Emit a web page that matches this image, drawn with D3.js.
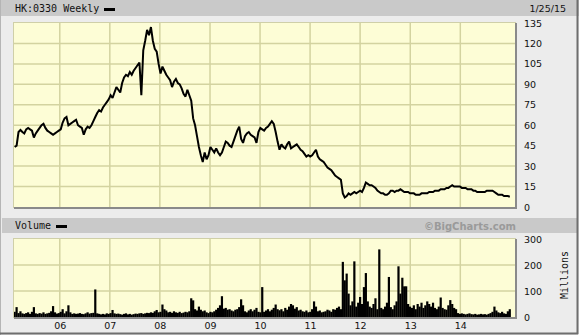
<!DOCTYPE html>
<html><head><meta charset="utf-8">
<script src="https://cdn.jsdelivr.net/npm/d3@7"></script>
<style>
html,body{margin:0;padding:0;background:#ececec;}
svg{display:block;}
</style></head>
<body>
<svg id="c" width="579" height="335"></svg>
<script>
// ---- data (bi-weekly samples) ----
const startDate = "2005-02-06";
const stepDays = 14;
const prices = [44,45,55,56.5,55,54,57,58,57,56,51,54,56,58,60,61,58,56,55,54,53,54,55,56,57,
62,65,66,60,61,62,63,64,60,59,58,53,57,59,58,60,63,66,69,71,
70,73,75,77,79,82,80,84,88,86,84,91,95,97,96,99,97,100,102,104,106,82,115,122,130,126,132,122,116,114,105,98,103,100,97,95,93,88,92,94,91,90,87,83,81,86,82,78,65,60,52,44,38,33,40,35,38,44,42,40,43,40,38,40,44,48,47,45,44,48,52,56,59,50,47,52,54,55,53,52,51,47,55,58,57,56,58,59,61,63,61,55,48,42,46,44,43,46,48,43,44,45,46,44,42,41,39,37,38,37,38,40,42,37,35,34,33,31,29,28,27,25,23,22,21,20,10,7,8,10,9,10,11,10,11,12,11,14,18,17,16,16,15,14,12,11,10,10,9,9,10,12,12,11,12,12,13,12,11,11,11,10,10,10,9,9,9,10,10,10,10,11,11,11,12,12,12,13,13,13,14,14,15,16,15,15,15,15,14,14,14,13,13,13,12,12,11,11,11,11,11,12,12,12,12,11,10,9,9,9,8,8,8,7.5];
const volumes = [20,38,15,22,14,12,15,18,12,20,38,14,12,15,13,18,12,14,16,22,42,18,13,15,20,
30,14,22,45,18,12,14,12,13,15,12,11,14,18,13,15,16,106,14,12,
10,12,10,14,12,15,27,14,12,13,11,9,12,14,10,12,9,11,13,12,14,15,12,14,16,15,18,16,22,27,18,20,48,30,25,18,20,16,22,18,16,20,15,17,20,18,22,72,64,30,25,40,28,22,25,18,15,20,18,22,28,35,45,80,32,35,28,30,25,22,28,30,38,68,45,22,18,25,30,22,28,35,20,18,115,20,25,30,22,28,35,48,30,26,30,22,35,28,40,50,45,32,38,25,28,22,20,25,18,20,30,60,40,22,25,18,20,22,28,25,20,30,28,35,40,30,212,141,167,90,45,60,214,40,55,77,50,115,169,60,40,35,50,72,30,260,35,30,40,55,154,38,30,45,60,195,90,151,118,118,50,40,35,45,30,50,40,55,35,45,60,50,40,55,35,30,40,75,35,30,28,45,65,50,35,30,15,12,14,12,10,12,14,11,10,12,9,10,12,10,11,9,12,15,20,40,25,18,15,20,14,12,22,30];
const priceTicks = [0,15,30,45,60,75,90,105,120,135];
const volumeTicks = [0,100,200,300];
const yearTicks = ["2006","2007","2008","2009","2010","2011","2012","2013","2014"];
const title = "HK:0330 Weekly";
const dateLabel = "1/25/15";
const volumeTitle = "Volume";
const brand = "©BigCharts.com";
const volUnit = "Millions";

// ---- build ----
const parse = d3.timeParse("%Y-%m-%d");
const t0 = parse(startDate);
const dates = prices.map((_, i) => d3.timeDay.offset(t0, i * stepDays));
const data = prices.map((p, i) => ({date: dates[i], price: p, vol: volumes[i]}));

const svg = d3.select("#c");
const W = 579, H = 335;
const L = 14, R = 515;
const pT = 23, pB = 207, vT = 239, vB = 317;
const mono = "'DejaVu Sans Mono', monospace";
const sans = "'DejaVu Sans', Verdana, sans-serif";
const plotBg = "#fdfdd6", gridC = "#d3d3a0";

const x = d3.scaleTime().domain([new Date(2005,1,1), new Date(2015,1,4)]).range([L, R]);
const yP = d3.scaleLinear().domain([0,135]).range([pB, pT]);
const yV = d3.scaleLinear().domain([0,300]).range([vB, vT]);

// outer
svg.append("rect").attr("x",0).attr("y",0).attr("width",W).attr("height",H).attr("fill","#ececec");
svg.append("rect").attr("x",0).attr("y",0).attr("width",W).attr("height",16).attr("fill","#c9c9c9");
svg.append("rect").attr("x",2).attr("y",218).attr("width",W-4).attr("height",15).attr("fill","#c9c9c9");
svg.append("line").attr("x1",0.5).attr("x2",0.5).attr("y1",0).attr("y2",H).attr("stroke","#b5b5b5").attr("stroke-width",1);
svg.append("line").attr("x1",577.5).attr("x2",577.5).attr("y1",0).attr("y2",334).attr("stroke","#6e6e6e").attr("stroke-width",2);
svg.append("line").attr("x1",0).attr("x2",578).attr("y1",333.5).attr("y2",333.5).attr("stroke","#6e6e6e").attr("stroke-width",2);

// header texts
svg.append("text").attr("x",15).attr("y",12).attr("font-family",mono).attr("font-size",10).attr("fill","#111").text(title);
svg.append("rect").attr("x",104).attr("y",8).attr("width",11).attr("height",3).attr("fill","#000");
svg.append("text").attr("x",566).attr("y",12).attr("text-anchor","end").attr("font-family",sans).attr("font-size",9.5).attr("fill","#111").text(dateLabel);
svg.append("text").attr("x",15).attr("y",229).attr("font-family",mono).attr("font-size",10).attr("fill","#111").text(volumeTitle);
svg.append("rect").attr("x",56).attr("y",225).attr("width",11).attr("height",3).attr("fill","#000");
svg.append("text").attr("x",516).attr("y",229.5).attr("text-anchor","end").attr("font-family",sans).attr("font-weight","bold").attr("font-size",10).attr("fill","#9a9a9a").text(brand);

function panel(top, bottom, yScale, ticks) {
  const g = svg.append("g");
  g.append("rect").attr("x",L).attr("y",top).attr("width",R-L).attr("height",bottom-top).attr("fill",plotBg);
  g.selectAll(".hg").data(ticks.slice(1,-1)).enter().append("line")
    .attr("x1",L).attr("x2",R).attr("y1",d=>yScale(d)).attr("y2",d=>yScale(d))
    .attr("stroke",gridC).attr("stroke-width",1.5);
  g.selectAll(".vg").data(yearTicks).enter().append("line")
    .attr("x1",d=>x(new Date(+d,0,1))).attr("x2",d=>x(new Date(+d,0,1)))
    .attr("y1",top).attr("y2",bottom).attr("stroke",gridC).attr("stroke-width",1.5);
  return g;
}
function frame(top, bottom) {
  svg.append("rect").attr("x",L-0.5).attr("y",top-0.5).attr("width",R-L+1).attr("height",bottom-top+1)
    .attr("fill","none").attr("stroke","#cfcfa8").attr("stroke-width",1);
  svg.append("path").attr("d",`M${L},${bottom+1}H${R+1}V${top}`).attr("fill","none").attr("stroke","#8a8a8a").attr("stroke-width",2);
}

// price panel
panel(pT, pB, yP, priceTicks);
const line = d3.line().x(d=>x(d.date)).y(d=>yP(d.price)).curve(d3.curveLinear);
svg.append("path").datum(data).attr("d",line).attr("fill","none").attr("stroke","#000")
  .attr("stroke-width",2).attr("stroke-linejoin","miter").attr("stroke-miterlimit",2);
frame(pT, pB);

svg.append("g").selectAll("text").data(priceTicks).enter().append("text")
  .attr("x",524).attr("y",d=>yP(d)+3.5).attr("font-family",sans).attr("font-size",9.5).attr("fill","#111").text(d=>d);

// volume panel
panel(vT, vB, yV, volumeTicks);
svg.append("g").selectAll("rect").data(data).enter().append("rect")
  .attr("x",d=>x(d.date)-1.1).attr("width",2.2)
  .attr("y",d=>yV(d.vol)).attr("height",d=>vB-yV(d.vol)).attr("fill","#000");
frame(vT, vB);

svg.append("g").selectAll("text").data(volumeTicks).enter().append("text")
  .attr("x",524).attr("y",d=>yV(d)+3.5).attr("font-family",sans).attr("font-size",9.5).attr("fill","#111").text(d=>d);
svg.append("text").attr("transform","translate(568,275) rotate(-90)").attr("text-anchor","middle")
  .attr("font-family",mono).attr("font-size",10).attr("fill","#111").text(volUnit);

// x axis labels
const xAxis = d3.axisBottom(x).tickValues(yearTicks.map(d=>new Date(+d,0,1))).tickFormat(d3.timeFormat("%y")).tickSize(0).tickPadding(0);
const ax = svg.append("g").attr("transform",`translate(0,${vB+2})`).call(xAxis);
ax.select(".domain").remove();
ax.selectAll("text").attr("font-family",sans).attr("font-size",9.5).attr("fill","#111").attr("dy","0.75em").attr("y",3);
</script>
</body></html>
